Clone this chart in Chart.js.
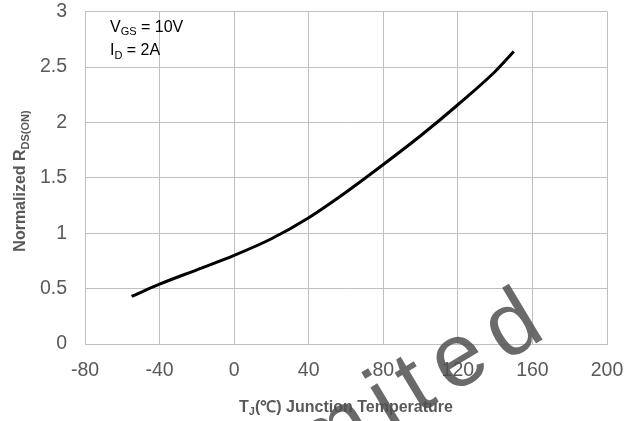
<!DOCTYPE html>
<html>
<head>
<meta charset="utf-8">
<script src="https://cdn.jsdelivr.net/npm/chart.js@4"></script>
<style>
    html, body { margin: 0; padding: 0; background: #ffffff; }
    #wrap { width: 641px; height: 421px; }
</style>
</head>
<body>
<div id="wrap"><canvas id="rds-graph" width="641" height="421"></canvas></div>
<script>
// =========================================================
// DATA
// =========================================================

    const temperatures = [-55, -40, -20, 0, 20, 40, 60, 80, 100, 120, 140, 150];
    const normalizedRds = [0.43, 0.54, 0.67, 0.80, 0.95, 1.14, 1.37, 1.62, 1.88, 2.16, 2.46, 2.64];

    const xTitleRuns = [["T", false], ["J", true], ["(℃) Junction Temperature", false]];
    const yTitleRuns = [["Normalized R", false], ["DS(ON)", true]];
    const noteLines = [
        [["V", false], ["GS", true], [" = 10V", false]],
        [["I", false], ["D", true], [" = 2A", false]]
    ];
    const watermarkText = "Limited";

// =========================================================
// HELPERS
// =========================================================

    const FONT = "'Liberation Sans', Arial, sans-serif";
    const TEXT_GREY = "#595959";
    const GRID_GREY = "#bfbfbf";

    // draws text with subscript parts, x is the left edge
    function drawRuns(ctx, runs, x, y, size, bold) {
        const weight = bold ? "bold " : "";
        let cursor = x;
        runs.forEach(function (run) {
            const isSub = run[1];
            ctx.font = weight + (isSub ? Math.round(size * 0.68) : size) + "px " + FONT;
            ctx.fillText(run[0], cursor, isSub ? y + size * 0.22 : y);
            cursor += ctx.measureText(run[0]).width;
        });
    }

    function measureRuns(ctx, runs, size, bold) {
        const weight = bold ? "bold " : "";
        let width = 0;
        runs.forEach(function (run) {
            ctx.font = weight + (run[1] ? Math.round(size * 0.68) : size) + "px " + FONT;
            width += ctx.measureText(run[0]).width;
        });
        return width;
    }

    const textPlugin = {
        id: "textPlugin",
        afterDraw(chart) {
            const ctx = chart.ctx;
            const area = chart.chartArea;
            ctx.save();
            ctx.textBaseline = "alphabetic";
            ctx.textAlign = "left";

            // x axis title
            ctx.fillStyle = TEXT_GREY;
            const xWidth = measureRuns(ctx, xTitleRuns, 16, true);
            drawRuns(ctx, xTitleRuns, (area.left + area.right) / 2 - xWidth / 2, 411.5, 16, true);

            // y axis title
            const yWidth = measureRuns(ctx, yTitleRuns, 16, true);
            ctx.save();
            ctx.translate(25, 181);
            ctx.rotate(-Math.PI / 2);
            drawRuns(ctx, yTitleRuns, -yWidth / 2, 0, 16, true);
            ctx.restore();

            // condition note
            ctx.fillStyle = "#000000";
            drawRuns(ctx, noteLines[0], 110, 31.5, 16, false);
            drawRuns(ctx, noteLines[1], 110, 55, 16, false);

            // watermark
            ctx.save();
            ctx.fillStyle = "rgba(80, 80, 80, 0.85)";
            ctx.font = "90px " + FONT;
            ctx.letterSpacing = "13px";
            ctx.translate(232, 526);
            ctx.rotate(-31 * Math.PI / 180);
            ctx.fillText(watermarkText, 0, 0);
            ctx.restore();

            ctx.restore();
        }
    };

// =========================================================
// CHART
// =========================================================

    Chart.defaults.font.family = FONT;
    Chart.defaults.color = TEXT_GREY;

    new Chart(document.getElementById("rds-graph"), {
        type: "line",
        data: {
            datasets: [
                {
                    data: temperatures.map((t, i) => ({ x: t, y: normalizedRds[i] })),
                    borderColor: "#000000",
                    borderWidth: 3,
                    pointRadius: 0,
                    cubicInterpolationMode: "monotone",
                    fill: false
                }
            ]
        },
        options: {
            responsive: false,
            animation: false,
            layout: {
                padding: { left: 0, right: 34, top: 11.5, bottom: 0 }
            },
            plugins: {
                legend: { display: false },
                tooltip: { enabled: false }
            },
            scales: {
                x: {
                    type: "linear",
                    min: -80,
                    max: 200,
                    afterFit: function (scale) { scale.height = 77; },
                    ticks: { stepSize: 40, padding: 15, font: { size: 19.5 }, color: TEXT_GREY },
                    grid: { color: GRID_GREY, lineWidth: 1, drawTicks: false },
                    border: { color: GRID_GREY }
                },
                y: {
                    min: 0,
                    max: 3,
                    afterFit: function (scale) { scale.width = 85; },
                    ticks: {
                        stepSize: 0.5,
                        padding: 0,
                        font: { size: 19.5 },
                        color: TEXT_GREY,
                        callback: function (value) { return String(value); }
                    },
                    // invisible tick marks keep the labels away from the axis
                    grid: { color: GRID_GREY, lineWidth: 1, drawTicks: true, tickLength: 18, tickColor: "rgba(0, 0, 0, 0)" },
                    border: { color: GRID_GREY }
                }
            }
        },
        plugins: [textPlugin]
    });
</script>
</body>
</html>
